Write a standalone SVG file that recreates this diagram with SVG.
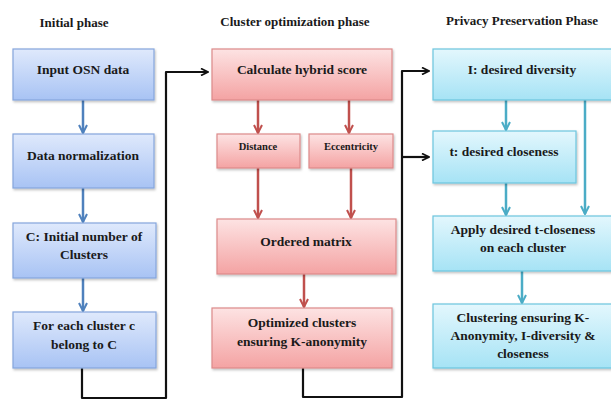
<svg xmlns="http://www.w3.org/2000/svg" width="611" height="400" viewBox="0 0 611 400" font-family="'Liberation Serif', 'Times New Roman', Times, serif">
<defs>
<linearGradient id="gb" x1="0" y1="0" x2="0" y2="1"><stop offset="0" stop-color="#dfe9fc"/><stop offset="1" stop-color="#a8c3f4"/></linearGradient>
<linearGradient id="gr" x1="0" y1="0" x2="0" y2="1"><stop offset="0" stop-color="#fde3e3"/><stop offset="1" stop-color="#f4a3a3"/></linearGradient>
<linearGradient id="gc" x1="0" y1="0" x2="0" y2="1"><stop offset="0" stop-color="#e3f7fd"/><stop offset="1" stop-color="#a6e3f5"/></linearGradient>
<filter id="sh" x="-5%" y="-5%" width="115%" height="120%"><feDropShadow dx="1" dy="1.5" stdDeviation="1" flood-color="#000" flood-opacity="0.25"/></filter>
<marker id="ab" viewBox="0 0 10 10" refX="9" refY="5" markerWidth="4" markerHeight="4" orient="auto"><path d="M1,1 L9,5 L1,9" fill="none" stroke="#4f81bd" stroke-width="2"/></marker>
<marker id="ar" viewBox="0 0 10 10" refX="9" refY="5" markerWidth="4" markerHeight="4" orient="auto"><path d="M1,1 L9,5 L1,9" fill="none" stroke="#c0504d" stroke-width="2"/></marker>
<marker id="ac" viewBox="0 0 10 10" refX="9" refY="5" markerWidth="4" markerHeight="4" orient="auto"><path d="M1,1 L9,5 L1,9" fill="none" stroke="#4bacc6" stroke-width="2"/></marker>
<marker id="ak" viewBox="0 0 10 10" refX="9" refY="5" markerWidth="4" markerHeight="4" orient="auto"><path d="M1,1 L9,5 L1,9" fill="none" stroke="#111" stroke-width="2"/></marker>
</defs>
<style>
text{font-family:"Liberation Serif","Times New Roman",Times,serif;font-weight:bold;fill:#1a1a1a;text-anchor:middle;font-size:13.5px}
.t{font-size:13px}
.s{font-size:10.5px}
.b{fill:url(#gb);stroke:#85a6dc;stroke-width:1.2;filter:url(#sh)}
.r{fill:url(#gr);stroke:#dc8a8a;stroke-width:1.2;filter:url(#sh)}
.c{fill:url(#gc);stroke:#6cc5de;stroke-width:1.2;filter:url(#sh)}
.lb{fill:none;stroke:#4f81bd;stroke-width:2.5;marker-end:url(#ab)}
.lr{fill:none;stroke:#c0504d;stroke-width:2.5;marker-end:url(#ar)}
.lc{fill:none;stroke:#4bacc6;stroke-width:2.5;marker-end:url(#ac)}
.lk{fill:none;stroke:#111;stroke-width:2.2;stroke-linejoin:round}
</style>
<g id="titles">
<text class="t" x="74" y="27">Initial phase</text>
<text class="t" x="295" y="26">Cluster optimization phase</text>
<text class="t" x="522" y="25">Privacy Preservation Phase</text>
</g>
<g id="connectors">
<path class="lb" d="M83,100 V133"/>
<path class="lb" d="M83,188 V222"/>
<path class="lb" d="M83,278 V311"/>
<path class="lk" d="M82,368 V398 H166 V72 H208" marker-end="url(#ak)"/>
<path class="lr" d="M258,100 V133"/>
<path class="lr" d="M349,100 V133"/>
<path class="lr" d="M258,168 V218"/>
<path class="lr" d="M351,168 V218"/>
<path class="lr" d="M304,274 V307"/>
<path class="lk" d="M303,368 V397 H402 V71 H429" marker-end="url(#ak)"/>
<path class="lk" d="M402,157 H429" marker-end="url(#ak)"/>
<path class="lc" d="M506,100 V130"/>
<path class="lc" d="M585,100 V214"/>
<path class="lc" d="M506,183 V215"/>
<path class="lc" d="M522,271 V303"/>
</g>
<g id="input"><rect class="b" x="13" y="49" width="141" height="51"/><text x="83" y="74">Input OSN data</text></g>
<g id="normalize"><rect class="b" x="13" y="134" width="141" height="54"/><text x="83" y="160">Data normalization</text></g>
<g id="initc"><rect class="b" x="13" y="223" width="143" height="55"/><text x="84" y="241">C: Initial number of</text><text x="84" y="259">Clusters</text></g>
<g id="foreach"><rect class="b" x="13" y="312" width="143" height="56"/><text x="84" y="330">For each cluster c</text><text x="84" y="349">belong to C</text></g>
<g id="hybrid"><rect class="r" x="212" y="49" width="180" height="51"/><text x="302" y="74">Calculate hybrid score</text></g>
<g id="distance"><rect class="r" x="217" y="134" width="83" height="34"/><text class="s" x="258" y="150">Distance</text></g>
<g id="eccentricity"><rect class="r" x="309" y="134" width="84" height="34"/><text class="s" x="351" y="150">Eccentricity</text></g>
<g id="ordered"><rect class="r" x="217" y="219" width="179" height="55"/><text x="306" y="246">Ordered matrix</text></g>
<g id="optimized"><rect class="r" x="212" y="308" width="180" height="60"/><text x="302" y="327">Optimized clusters</text><text x="302" y="346">ensuring K-anonymity</text></g>
<g id="diversity"><rect class="c" x="433" y="49" width="185" height="51"/><text x="522" y="74">I: desired diversity</text></g>
<g id="closeness"><rect class="c" x="433" y="131" width="143" height="52"/><text x="504" y="156">t: desired closeness</text></g>
<g id="apply"><rect class="c" x="433" y="216" width="185" height="55"/><text x="523" y="234">Apply desired t-closeness</text><text x="523" y="252">on each cluster</text></g>
<g id="clustering"><rect class="c" x="433" y="304" width="185" height="64"/><text x="523" y="322">Clustering ensuring K-</text><text x="523" y="340">Anonymity, I-diversity &amp;</text><text x="523" y="358">closeness</text></g>
</svg>
